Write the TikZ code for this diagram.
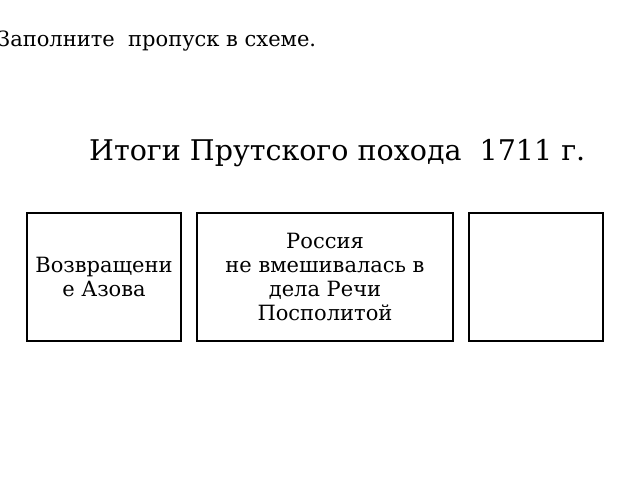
\documentclass[tikz,border=0pt]{standalone}
\usepackage{fontspec}
\setmainfont{DejaVu Serif}
\begin{document}
\begin{tikzpicture}[x=1pt,y=-1pt,
  box/.style={draw=black,line width=1.8pt,inner sep=0pt,align=center,
    font=\fontsize{21}{23.8}\selectfont}]
\useasboundingbox[fill=white] (0,0) rectangle (640,480);
\node[anchor=base west,inner sep=0pt,font=\fontsize{21}{24}\selectfont] (task) at (-3,46) {Заполните\ \ пропуск в схеме.};
\node[anchor=base west,inner sep=0pt,font=\fontsize{28.5}{33}\selectfont] (title) at (89,160) {Итоги Прутского похода\ \ 1711 г.};
\node[box,minimum width=154pt,minimum height=128pt] (b1) at (104,277) {Возвращени\\е Азова};
\node[box,minimum width=256pt,minimum height=128pt] (b2) at (325,277) {Россия\\не вмешивалась в\\дела Речи\\Посполитой};
\node[box,minimum width=134pt,minimum height=128pt] (b3) at (536,277) {};
\end{tikzpicture}
\end{document}
